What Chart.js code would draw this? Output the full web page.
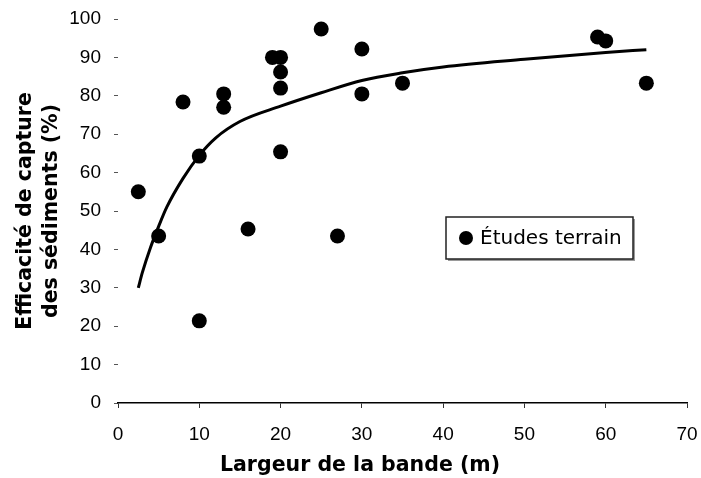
<!DOCTYPE html>
<html>
<head>
<meta charset="utf-8">
<script src="https://cdn.jsdelivr.net/npm/chart.js@4"></script>
<style>
  html, body { margin: 0; padding: 0; background: #fff; }
  #wrap { position: relative; width: 701px; height: 478px; }
</style>
</head>
<body>
<div id="wrap"><canvas id="sedimentChart" width="701" height="478"></canvas></div>
<script>
// Études terrain : largeur de bande (m) / efficacité (%)
const studyWidth = [2.5, 5, 8, 10, 10, 13, 13, 16, 19, 20, 20, 20, 20, 25, 27, 30, 30, 35, 59, 60, 65];
const studyEff   = [55, 43.5, 78.4, 64.3, 21.4, 80.5, 77, 45.3, 90, 90, 86.2, 82, 65.4, 97.4, 43.5, 92.2, 80.5, 83.3, 95.3, 94.3, 83.3];

// courbe de tendance
const trendWidth = [2.5, 3, 4, 5, 6, 8, 10, 12, 15, 20, 25, 30, 35, 40, 50, 60, 65];
const trendEff   = [30, 34, 40.5, 46, 51, 58.5, 64.5, 69, 73.3, 77.3, 80.8, 84, 86, 87.5, 89.5, 91.3, 92];

const xTicks = [0, 10, 20, 30, 40, 50, 60, 70];
const yTicks = [0, 10, 20, 30, 40, 50, 60, 70, 80, 90, 100];

const legendLabel = 'Études terrain';
const xTitle = 'Largeur de la bande (m)';

const toPoints = (xs, ys) => xs.map((x, i) => ({ x, y: ys[i] }));

// Légende encadrée + titre de l'axe X (décalé vers la gauche comme dans l'original)
const extras = {
  id: 'extras',
  afterDraw(chart) {
    const ctx = chart.ctx;
    const x = 446, y = 217, w = 187, h = 42;
    ctx.save();
    ctx.fillStyle = '#9a9a9a';
    ctx.fillRect(x + 2, y + 2, w, h);
    ctx.fillStyle = '#fff';
    ctx.fillRect(x, y, w, h);
    ctx.strokeStyle = '#222';
    ctx.lineWidth = 1.5;
    ctx.strokeRect(x, y, w, h);
    ctx.fillStyle = '#000';
    ctx.beginPath();
    ctx.arc(x + 20, y + 21, 7, 0, Math.PI * 2);
    ctx.fill();
    ctx.font = '20px "DejaVu Sans"';
    ctx.textBaseline = 'middle';
    ctx.fillText(legendLabel, x + 34, y + 22);

    ctx.font = 'bold 20.5px "DejaVu Sans"';
    ctx.textAlign = 'center';
    ctx.fillText(xTitle, 360, 466);
    ctx.restore();
  }
};

const ctx = document.getElementById('sedimentChart').getContext('2d');

new Chart(ctx, {
  type: 'scatter',
  data: {
    datasets: [
      {
        label: legendLabel,
        data: toPoints(studyWidth, studyEff),
        backgroundColor: '#000',
        borderWidth: 0,
        pointRadius: 7.5,
        order: 1
      },
      {
        label: 'Tendance',
        data: toPoints(trendWidth, trendEff),
        showLine: true,
        borderColor: '#000',
        borderWidth: 3,
        pointRadius: 0,
        cubicInterpolationMode: 'monotone',
        fill: false,
        order: 2
      }
    ]
  },
  options: {
    responsive: false,
    animation: false,
    layout: { padding: { top: 19, right: 14, left: 0, bottom: 0 } },
    plugins: {
      legend: { display: false },
      tooltip: { enabled: false }
    },
    scales: {
      x: {
        type: 'linear',
        min: 0,
        max: 70,
        afterBuildTicks: s => { s.ticks = xTicks.map(v => ({ value: v })); },
        afterFit: s => { s.height = 75; s.paddingLeft = 0; s.paddingRight = 0; },
        grid: { drawOnChartArea: false, tickLength: 5, color: '#333', lineWidth: 1 },
        border: { display: true, color: '#000', width: 1.5 },
        ticks: {
          color: '#000',
          padding: 15,
          font: { family: '"Liberation Sans", Arial', size: 19 }
        }
      },
      y: {
        type: 'linear',
        min: 0,
        max: 100,
        afterBuildTicks: s => { s.ticks = yTicks.map(v => ({ value: v })); },
        afterFit: s => { s.width = 118; s.paddingTop = 0; s.paddingBottom = 0; },
        grid: { drawOnChartArea: false, tickLength: 4, color: '#555', lineWidth: 1 },
        border: { display: false },
        ticks: {
          color: '#000',
          padding: 13,
          font: { family: '"Liberation Sans", Arial', size: 19 }
        },
        title: {
          display: true,
          text: ['Efficacité de capture', 'des sédiments (%)'],
          color: '#000',
          font: { family: '"DejaVu Sans"', size: 20.5, weight: 'bold', lineHeight: 1.27 },
          padding: { top: 13, bottom: 0 }
        }
      }
    }
  },
  plugins: [extras]
});
</script>
</body>
</html>
